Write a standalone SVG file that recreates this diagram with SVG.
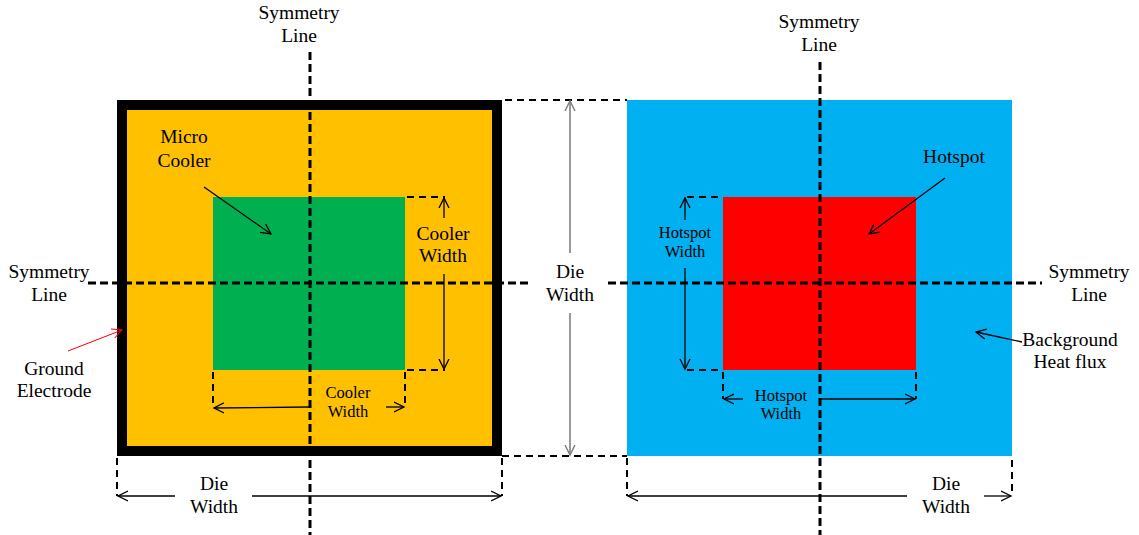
<svg xmlns="http://www.w3.org/2000/svg" width="1139" height="535" viewBox="0 0 1139 535">
<defs>
<style>
text{font-family:"Liberation Serif","Times New Roman",serif;fill:#000;text-anchor:middle}
.big{font-size:19.5px}
.sm{font-size:16.5px}
.sym{stroke:#000;stroke-width:3;stroke-dasharray:8 4;fill:none}
.ext{stroke:#000;stroke-width:2;stroke-dasharray:7 5;fill:none}
.dim{stroke:#000;stroke-width:1.3;fill:none}
.gdim{stroke:#808080;stroke-width:1.6;fill:none}
</style>
<marker id="ah" markerWidth="12" markerHeight="12" refX="10" refY="5" orient="auto" markerUnits="userSpaceOnUse" viewBox="0 0 12 10">
<path d="M0,0 L10,5 L0,10" fill="none" stroke="#000" stroke-width="1.3"/>
</marker>
<marker id="ahg" markerWidth="12" markerHeight="12" refX="10" refY="5" orient="auto" markerUnits="userSpaceOnUse" viewBox="0 0 12 10">
<path d="M0,0 L10,5 L0,10" fill="none" stroke="#808080" stroke-width="1.5"/>
</marker>
<marker id="ahr" markerWidth="12" markerHeight="12" refX="10" refY="5" orient="auto" markerUnits="userSpaceOnUse" viewBox="0 0 12 10">
<path d="M0,0 L10,5 L0,10" fill="none" stroke="#ff0000" stroke-width="1"/>
</marker>
</defs>
<rect width="1139" height="535" fill="#fff"/>

<g id="left-die">
<rect x="122" y="105" width="375" height="346" fill="#FFC000" stroke="#000" stroke-width="10"/>
</g>
<g id="micro-cooler">
<rect x="213" y="197" width="192" height="173" fill="#00B050"/>
</g>
<g id="right-die">
<rect x="627" y="100" width="385" height="356" fill="#00B0F0"/>
</g>
<g id="hotspot">
<rect x="723" y="197" width="193" height="173" fill="#FF0000"/>
</g>

<g id="connectors">
<!-- symmetry lines -->
<line class="sym" x1="310" y1="52" x2="310" y2="535"/>
<line class="sym" x1="820" y1="62" x2="820" y2="535"/>
<line class="sym" x1="88" y1="283" x2="531" y2="283"/>
<line class="sym" x1="608" y1="283" x2="1042" y2="283"/>

<!-- die width vertical (middle) -->
<line class="ext" x1="505" y1="100" x2="627" y2="100"/>
<line class="ext" x1="502" y1="456" x2="627" y2="456"/>
<line class="gdim" x1="570" y1="253" x2="570" y2="101" marker-end="url(#ahg)"/>
<line class="gdim" x1="570" y1="313" x2="570" y2="455" marker-end="url(#ahg)"/>

<!-- die width bottom left -->
<line class="ext" x1="117" y1="458" x2="117" y2="496"/>
<line class="ext" x1="502" y1="458" x2="502" y2="496"/>
<line class="dim" x1="175" y1="496" x2="118" y2="496" marker-end="url(#ah)"/>
<line class="dim" x1="252" y1="496" x2="501" y2="496" marker-end="url(#ah)"/>

<!-- die width bottom right -->
<line class="ext" x1="627" y1="458" x2="627" y2="496"/>
<line class="ext" x1="1012" y1="460" x2="1012" y2="496"/>
<line class="dim" x1="907" y1="496" x2="628" y2="496" marker-end="url(#ah)"/>
<line class="dim" x1="984" y1="496" x2="1011" y2="496" marker-end="url(#ah)"/>

<!-- cooler width vertical -->
<line class="ext" x1="407" y1="197" x2="445" y2="197"/>
<line class="ext" x1="407" y1="370" x2="445" y2="370"/>
<line class="dim" x1="444" y1="218" x2="444" y2="198" marker-end="url(#ah)"/>
<line class="dim" x1="444" y1="274" x2="444" y2="369" marker-end="url(#ah)"/>

<!-- cooler width horizontal -->
<line class="ext" x1="213" y1="372" x2="213" y2="408"/>
<line class="ext" x1="405" y1="372" x2="405" y2="408"/>
<line class="dim" x1="310" y1="407" x2="214" y2="408" marker-end="url(#ah)"/>
<line class="dim" x1="386" y1="407" x2="404" y2="407" marker-end="url(#ah)"/>

<!-- hotspot width vertical -->
<line class="ext" x1="687" y1="197" x2="723" y2="197"/>
<line class="ext" x1="687" y1="370" x2="723" y2="370"/>
<line class="dim" x1="685" y1="220" x2="685" y2="198" marker-end="url(#ah)"/>
<line class="dim" x1="685" y1="268" x2="685" y2="369" marker-end="url(#ah)"/>

<!-- hotspot width horizontal -->
<line class="ext" x1="723" y1="372" x2="723" y2="399"/>
<line class="ext" x1="916" y1="372" x2="916" y2="399"/>
<line class="dim" x1="743" y1="399" x2="724" y2="399" marker-end="url(#ah)"/>
<line class="dim" x1="820" y1="399" x2="915" y2="399" marker-end="url(#ah)"/>

<!-- label arrows -->
<line class="dim" x1="204" y1="187" x2="271" y2="234" marker-end="url(#ah)"/>
<line class="dim" x1="945" y1="178" x2="869" y2="234" marker-end="url(#ah)"/>
<line class="dim" x1="1022" y1="342" x2="976" y2="332" marker-end="url(#ah)"/>
<line x1="68" y1="351" x2="122" y2="330" stroke="#ff0000" stroke-width="1" marker-end="url(#ahr)"/>
</g>

<g id="labels">
<text class="big" x="299" y="19">Symmetry</text>
<text class="big" x="299" y="42">Line</text>
<text class="big" x="819" y="28">Symmetry</text>
<text class="big" x="819" y="51">Line</text>
<text class="big" x="184" y="143">Micro</text>
<text class="big" x="184" y="167">Cooler</text>
<text class="big" x="49" y="278">Symmetry</text>
<text class="big" x="49" y="301">Line</text>
<text class="big" x="54" y="375">Ground</text>
<text class="big" x="54" y="397">Electrode</text>
<text class="big" x="570" y="278">Die</text>
<text class="big" x="570" y="301">Width</text>
<text class="big" x="443" y="240">Cooler</text>
<text class="big" x="443" y="262">Width</text>
<text class="sm" x="685" y="238">Hotspot</text>
<text class="sm" x="685" y="257">Width</text>
<text class="sm" x="348" y="398">Cooler</text>
<text class="sm" x="348" y="417">Width</text>
<text class="sm" x="781" y="401">Hotspot</text>
<text class="sm" x="781" y="419">Width</text>
<text class="big" x="214" y="490">Die</text>
<text class="big" x="214" y="513">Width</text>
<text class="big" x="946" y="490">Die</text>
<text class="big" x="946" y="513">Width</text>
<text class="big" x="954" y="163">Hotspot</text>
<text class="big" x="1089" y="278">Symmetry</text>
<text class="big" x="1089" y="301">Line</text>
<text class="big" x="1070" y="346">Background</text>
<text class="big" x="1070" y="368">Heat flux</text>
</g>
</svg>
